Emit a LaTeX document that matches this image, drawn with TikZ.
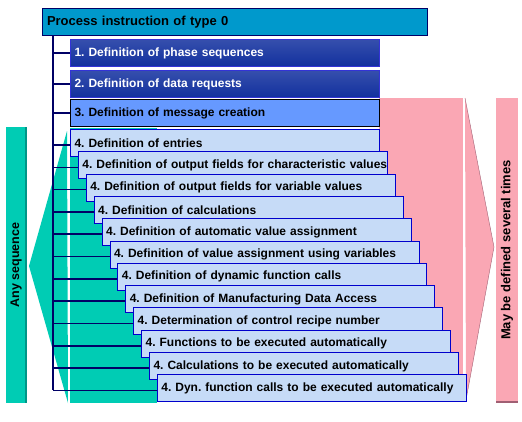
\documentclass[tikz,border=0pt]{standalone}
\usepackage{fontspec}
\setmainfont{Liberation Sans}
\definecolor{tealA}{RGB}{0,204,180}
\definecolor{tealB}{RGB}{0,150,135}
\definecolor{pinkA}{RGB}{250,167,180}
\definecolor{pinkB}{RGB}{160,95,115}
\definecolor{navy}{RGB}{0,0,102}
\definecolor{headfill}{RGB}{0,153,204}
\definecolor{darkfill}{RGB}{18,48,158}
\definecolor{midfill}{RGB}{102,153,255}
\definecolor{lightfill}{RGB}{198,219,247}
\definecolor{rim}{RGB}{0,0,204}
\frenchspacing
\begin{document}
\begin{tikzpicture}[x=1pt, y=-1pt, font=\fontsize{12}{14}\selectfont\bfseries,
	box/.style={draw=rim, fill=lightfill, line width=1pt, anchor=north west, minimum height=27pt, inner ysep=0pt, inner xsep=4pt, text width=301pt, align=left},
	head/.style={box, fill=headfill, draw=navy, text width=376pt, inner xsep=4.5pt, font=\fontsize{13}{15}\selectfont\bfseries},
	dark/.style={box, top color=darkfill!85!white, bottom color=darkfill, draw=rim!80!white, text=white},
	spine/.style={navy, line width=2pt}, tick/.style={navy, line width=1.6pt}]
	\useasboundingbox (0,0) rectangle (522,421);
	% side bands
	\fill[tealA] (6,127) rectangle (26,403);
	\draw[tealB, line width=1.2pt] (26,127)--(26,403);
	\fill[tealA] (29,266)--(67,131)--(68,403)--cycle;
	\fill[tealA] (70,127.5) rectangle (157,403);
	\fill[pinkA] (379,98) rectangle (463,400);
	\fill[pinkA] (465,98)--(494,247)--(466,400)--cycle;
	\draw[pinkB] (465,98)--(494,247)--(466,400);
	\fill[pinkA] (496,98) rectangle (518,402);
	\draw[pinkB, line width=1.2pt] (496,402)--(518,402);
	\node[rotate=90, font=\fontsize{12.5}{14}\selectfont\bfseries] (anyseq) at (16,265) {Any sequence};
	\node[rotate=90, font=\fontsize{13}{15}\selectfont\bfseries] (several) at (507,250) {May be defined several times};
	% boxes
	\node[head] (p0) at (42,8) {Process instruction of type 0};
	\coordinate (top) at (53,35);
	\node[dark] (p1) at (70,39) {1. Definition of phase sequences};
	\node[dark] (p2) at (70,70) {2. Definition of data requests};
	\node[box, fill=midfill, draw=black] (p3) at (70,99) {3. Definition of message creation};
	\foreach \i in {1,2,3}
		\draw[tick] (top |- p\i.west)--(p\i.west);
	\foreach \t [count=\j from 0] in {Definition of entries, Definition of output fields for characteristic values, Definition of output fields for variable values, Definition of calculations, Definition of automatic value assignment, Definition of value assignment using variables, Definition of dynamic function calls, Definition of Manufacturing Data Access, Determination of control recipe number, Functions to be executed automatically, Calculations to be executed automatically, Dyn. function calls to be executed automatically}
		{\node[box] (q\j) at ({70+7.9*\j},{129+22.3*\j}) {\mbox{4. \t}};
		\coordinate (k\j) at ([yshift=-2pt]q\j.west);
		\draw[tick] (top |- k\j)--(k\j);}
	\draw[spine] (top)--(top |- k11);
\end{tikzpicture}
\end{document}
